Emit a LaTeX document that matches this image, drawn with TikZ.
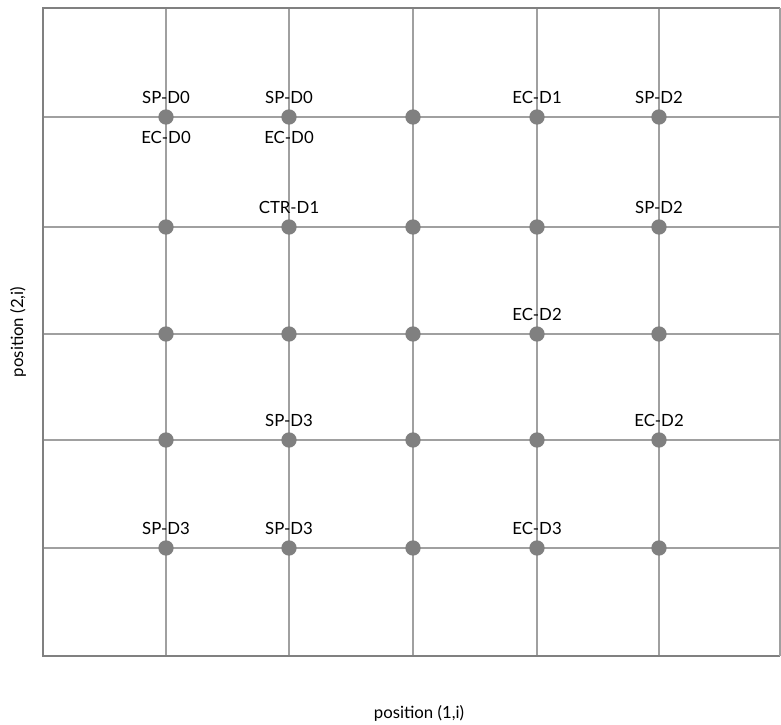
\documentclass[tikz,border=0pt]{standalone}
\usepackage{fontspec}
\setmainfont{Lato}
\definecolor{gridc}{RGB}{160,160,160}
\definecolor{framec}{RGB}{128,128,128}
\definecolor{dotc}{RGB}{128,128,128}
\begin{document}
\begin{tikzpicture}[x=0.75pt,y=-0.75pt,
  gridline/.style={draw=gridc,line width=0.9pt},
  frameline/.style={draw=framec,line width=1.1pt},
  dotnode/.style={circle,fill=dotc,inner sep=0pt,minimum size=11.5pt},
  lbl/.style={font=\fontsize{12.6}{14}\selectfont,inner sep=0pt}]
\useasboundingbox (0,0) rectangle (781,724);
% grid
\foreach \x in {166,289,413,537,659} \draw[gridline] (\x,8) -- (\x,656);
\foreach \y in {117,227,334,440,548} \draw[gridline] (43,\y) -- (780,\y);
\draw[frameline] (780,8) -- (43,8) -- (43,656) -- (780,656);
\draw[gridline] (780,8) -- (780,656);
% dots
\foreach \c/\x in {1/166,2/289,3/413,4/537,5/659}
  \foreach \r/\y in {1/117,2/227,3/334,4/440,5/548}
    \node[dotnode] (d\c\r) at (\x,\y) {};
% labels
\node[lbl] (l1) at ([yshift=14.5pt]d11.center) {SP-D0};
\node[lbl] (l2) at ([yshift=-15pt]d11.center) {EC-D0};
\node[lbl] (l3) at ([yshift=14.5pt]d21.center) {SP-D0};
\node[lbl] (l4) at ([yshift=-15pt]d21.center) {EC-D0};
\node[lbl] (l5) at ([yshift=14.5pt]d41.center) {EC-D1};
\node[lbl] (l6) at ([yshift=14.5pt]d51.center) {SP-D2};
\node[lbl] (l7) at ([yshift=14.5pt]d22.center) {CTR-D1};
\node[lbl] (l8) at ([yshift=14.5pt]d52.center) {SP-D2};
\node[lbl] (l9) at ([yshift=14.5pt]d43.center) {EC-D2};
\node[lbl] (l10) at ([yshift=14.5pt]d24.center) {SP-D3};
\node[lbl] (l11) at ([yshift=14.5pt]d54.center) {EC-D2};
\node[lbl] (l12) at ([yshift=14.5pt]d15.center) {SP-D3};
\node[lbl] (l13) at ([yshift=14.5pt]d25.center) {SP-D3};
\node[lbl] (l14) at ([yshift=14.5pt]d45.center) {EC-D3};
% axis titles
\node[lbl] (xt) at (419,713) {position (1,i)};
\node[lbl,rotate=90] (yt) at (18,332) {position (2,i)};
\end{tikzpicture}
\end{document}
